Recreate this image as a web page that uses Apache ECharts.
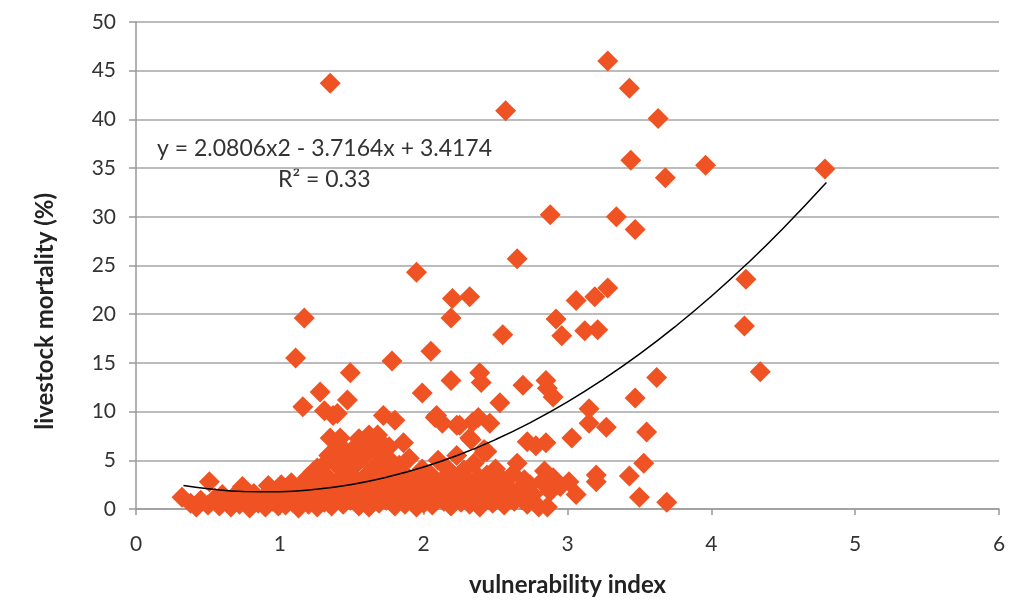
<!DOCTYPE html>
<html>
<head>
<meta charset="utf-8">
<script src="https://cdn.jsdelivr.net/npm/echarts@6/dist/echarts.min.js"></script>
<style>
  html, body { margin: 0; padding: 0; background: #fff; }
  #main { width: 1013px; height: 602px; }
</style>
</head>
<body>
<div id="main"></div>
<script>
// scatter points: [vulnerability index, livestock mortality %]
var outliers = [
  [1.35, 43.7], [2.57, 40.9], [3.28, 46.0], [3.43, 43.2], [3.63, 40.1],
  [3.44, 35.8], [3.68, 34.0], [3.96, 35.3], [4.79, 34.9], [2.88, 30.2],
  [3.34, 30.0], [3.47, 28.7], [2.65, 25.7], [1.95, 24.3], [4.24, 23.6],
  [2.2, 21.6], [2.32, 21.8], [2.19, 19.6], [1.17, 19.6], [3.06, 21.4],
  [3.19, 21.8], [3.28, 22.7], [2.92, 19.5], [2.96, 17.8], [2.55, 17.9],
  [3.12, 18.3], [3.21, 18.4], [4.23, 18.8], [2.05, 16.2], [1.11, 15.5],
  [1.78, 15.2], [4.34, 14.1], [1.49, 14.0], [2.39, 14.0], [2.4, 13.0],
  [2.19, 13.2], [3.62, 13.5], [2.85, 13.2], [2.86, 12.4], [2.9, 11.5],
  [2.69, 12.7], [1.28, 12.0], [1.47, 11.2], [1.16, 10.5], [1.31, 10.1],
  [1.4, 9.8], [3.15, 10.3], [3.47, 11.4], [2.53, 10.9], [1.99, 11.9],
  [1.72, 9.6], [1.8, 9.1], [2.08, 9.4], [2.13, 8.8], [2.25, 8.6],
  [2.38, 9.4], [2.46, 8.8], [3.15, 8.8], [3.27, 8.4], [3.55, 7.9],
  [2.32, 7.3], [2.42, 6.1], [1.86, 6.8], [2.72, 6.9], [2.78, 6.5],
  [2.85, 6.8], [3.03, 7.3], [2.65, 4.7], [2.84, 3.9], [3.2, 3.5],
  [3.2, 2.8], [3.43, 3.4], [3.53, 4.7], [3.5, 1.2], [3.69, 0.7],
  [3.01, 2.8], [3.06, 1.5], [2.8, 0.2], [2.86, 0.2], [2.53, 1.8],
  [2.44, 3.5]
];
var midPoints = [
  [1.35, 7.3], [1.42, 7.3], [1.58, 6.9], [1.62, 7.6], [1.67, 6.1],
  [1.72, 6.6], [1.74, 5.3], [1.58, 5.4], [1.46, 5.9], [1.35, 5.6],
  [1.26, 4.2], [1.68, 7.6], [1.53, 6.1], [1.6, 5.9], [1.76, 5.1],
  [2.09, 9.6], [2.23, 8.6], [2.34, 8.9], [2.33, 7.1], [2.44, 5.9],
  [1.37, 9.6], [1.55, 7.2], [1.65, 6.8], [1.7, 6.5]
];
var lowCluster = [
  [0.32, 1.2], [0.38, 0.6], [0.42, 0.2], [0.45, 0.9], [0.5, 0.4], [0.51, 2.8],
  [0.55, 1.1], [0.58, 0.3], [0.6, 1.5], [0.63, 0.8], [0.66, 0.2], [0.68, 1.3],
  [0.72, 0.5], [0.74, 2.3], [0.76, 1.0], [0.79, 0.1], [0.82, 1.6], [0.85, 0.6],
  [0.88, 1.1], [0.9, 0.2], [0.92, 2.4], [0.95, 0.8], [0.97, 1.5], [0.99, 0.3],
  [1.01, 2.5], [1.02, 1.0], [1.04, 0.4], [1.06, 1.8], [1.08, 2.7], [1.09, 0.7],
  [1.11, 1.3], [1.13, 0.1], [1.14, 2.2], [1.16, 0.9], [1.18, 1.6], [1.19, 3.2],
  [1.2, 0.5], [1.22, 2.0], [1.23, 3.8], [1.25, 1.1], [1.26, 0.2], [1.27, 2.8],
  [1.29, 4.3], [1.3, 1.5], [1.31, 0.7], [1.33, 3.3], [1.34, 5.5], [1.35, 2.3],
  [1.36, 0.3], [1.38, 1.0], [1.39, 4.6], [1.4, 6.3], [1.41, 2.9], [1.43, 1.8],
  [1.44, 0.5], [1.45, 3.7], [1.46, 5.2], [1.48, 2.4], [1.49, 0.9], [1.5, 6.0],
  [1.51, 1.4], [1.52, 3.1], [1.53, 4.6], [1.55, 0.3], [1.56, 2.1], [1.57, 6.9],
  [1.58, 5.3], [1.6, 1.0], [1.61, 3.6], [1.62, 0.2], [1.63, 2.6], [1.65, 4.2],
  [1.66, 6.1], [1.67, 1.7], [1.69, 0.6], [1.7, 3.3], [1.71, 5.0], [1.72, 2.2],
  [1.74, 0.9], [1.75, 4.0], [1.76, 6.4], [1.78, 1.5], [1.79, 3.0], [1.8, 0.3],
  [1.82, 2.4], [1.83, 4.5], [1.85, 1.1], [1.86, 3.7], [1.87, 0.5], [1.89, 2.0],
  [1.9, 5.2], [1.92, 1.4], [1.93, 3.0], [1.95, 0.2], [1.96, 2.5], [1.98, 1.0],
  [1.99, 4.1], [2.0, 0.6], [2.01, 2.8], [2.03, 1.6], [2.05, 3.5], [2.06, 0.4],
  [2.08, 2.2], [2.1, 5.0], [2.11, 1.2], [2.13, 3.0], [2.14, 0.8], [2.16, 4.2],
  [2.17, 2.0], [2.19, 0.3], [2.2, 3.6], [2.22, 1.4], [2.23, 5.5], [2.25, 2.6],
  [2.26, 0.7], [2.28, 4.0], [2.29, 1.9], [2.3, 3.1], [2.32, 0.5], [2.33, 2.4],
  [2.35, 4.7], [2.36, 1.3], [2.38, 3.3], [2.39, 0.2], [2.41, 2.0], [2.42, 5.8],
  [2.45, 1.0], [2.47, 2.7], [2.48, 0.6], [2.5, 4.1], [2.51, 1.6], [2.55, 3.0],
  [2.56, 0.4], [2.58, 2.3], [2.6, 1.2], [2.62, 3.6], [2.63, 0.8], [2.66, 2.0],
  [2.68, 1.0], [2.7, 3.0], [2.72, 0.5], [2.74, 2.5], [2.76, 1.5], [2.82, 2.8],
  [2.88, 1.8], [2.9, 3.2], [2.95, 2.3]
];

// polynomial trend line
var trendX = [0.33, 0.5, 0.75, 1, 1.25, 1.5, 1.75, 2, 2.25, 2.5, 2.75, 3, 3.25, 3.5, 3.75, 4, 4.25, 4.5, 4.8];
var trendY = [2.42, 2.08, 1.80, 1.78, 2.02, 2.52, 3.29, 4.31, 5.59, 7.13, 8.93, 10.99, 13.32, 15.90, 18.74, 21.84, 25.20, 28.83, 33.52];

var xTicks = [0, 1, 2, 3, 4, 5, 6];
var yTicks = [0, 5, 10, 15, 20, 25, 30, 35, 40, 45, 50];

var font = 'Lato, "Open Sans", sans-serif';
var chart = echarts.init(document.getElementById('main'));

var option = {
  animation: false,
  backgroundColor: '#fff',
  grid: { left: 136, right: 14, top: 22, bottom: 87 },
  xAxis: {
    type: 'value',
    min: xTicks[0], max: xTicks[xTicks.length - 1], interval: 1,
    name: 'vulnerability index',
    nameLocation: 'middle',
    nameGap: 64,
    nameTextStyle: { fontFamily: font, fontSize: 24, fontWeight: 'bold', color: '#222' },
    axisLine: { lineStyle: { color: '#999', width: 1.5 } },
    axisTick: { show: true, length: 6, lineStyle: { color: '#999', width: 1.5 } },
    axisLabel: { margin: 25, fontFamily: font, fontSize: 21, color: '#333' },
    splitLine: { show: false }
  },
  yAxis: {
    type: 'value',
    min: yTicks[0], max: yTicks[yTicks.length - 1], interval: 5,
    axisLine: { show: true, lineStyle: { color: '#999', width: 1.5 } },
    axisTick: { show: true, length: 7, lineStyle: { color: '#999', width: 1.5 } },
    axisLabel: { margin: 20, fontFamily: font, fontSize: 21, color: '#333' },
    splitLine: { lineStyle: { color: '#a6a6a6', width: 1.5 } }
  },
  graphic: [
    {
      type: 'text', left: 33, top: 193, rotation: Math.PI / 2,
      style: { text: 'livestock mortality (%)', font: 'bold 24px ' + font, fill: '#222' }
    },
    {
      type: 'text', left: 157, top: 137,
      style: { text: 'y = 2.0806x2 - 3.7164x + 3.4174', font: '23px ' + font, fill: '#333' }
    },
    {
      type: 'text', left: 278, top: 168,
      style: { text: 'R² = 0.33', font: '23px ' + font, fill: '#333' }
    }
  ],
  series: [
    {
      type: 'scatter',
      symbol: 'diamond',
      symbolSize: 21,
      clip: false,
      itemStyle: { color: '#f05323', opacity: 1 },
      data: lowCluster.concat(midPoints, outliers)
    },
    {
      type: 'line',
      smooth: true,
      showSymbol: false,
      z: 5,
      lineStyle: { color: '#000', width: 1.5 },
      data: trendX.map(function (x, i) { return [x, trendY[i]]; })
    }
  ]
};
chart.setOption(option);
</script>
</body>
</html>
